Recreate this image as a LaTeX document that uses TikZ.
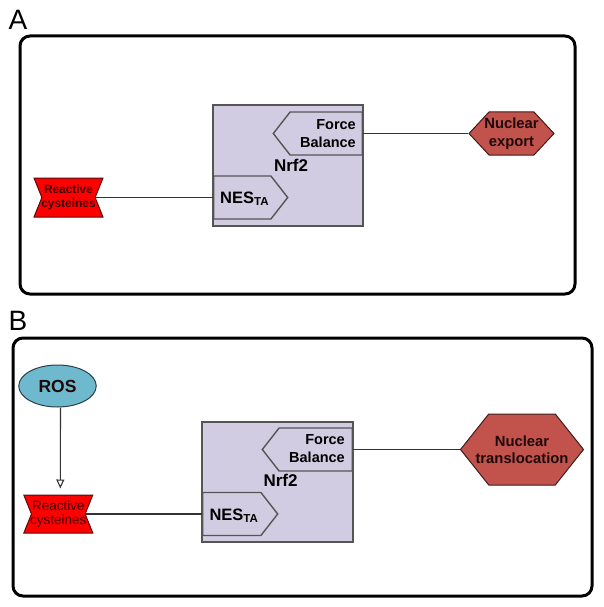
\documentclass[tikz,border=0pt]{standalone}
\usepackage{fontspec}
\setmainfont{Liberation Sans}
\usetikzlibrary{shapes.symbols,shapes.geometric,arrows.meta}

\definecolor{boxfill}{RGB}{210,204,226}
\definecolor{boxline}{RGB}{85,85,85}
\definecolor{cysred}{RGB}{255,0,0}
\definecolor{cysline}{RGB}{90,10,10}
\definecolor{cystext}{RGB}{60,0,0}
\definecolor{hexred}{RGB}{194,82,76}
\definecolor{hexline}{RGB}{60,30,30}
\definecolor{hextext}{RGB}{30,10,10}
\definecolor{rosblue}{RGB}{110,185,205}
\definecolor{rosline}{RGB}{44,62,70}
\definecolor{linkgray}{RGB}{51,51,51}

\tikzset{
  frame/.style={line width=3pt, rounded corners=10pt},
  panel/.style={font=\fontsize{28}{30}\selectfont, inner sep=0pt, anchor=base west},
  nrfbox/.style={draw=boxline, fill=boxfill, line width=1.4pt, inner sep=0pt},
  domtab/.style={signal, signal from=nowhere, signal pointer angle=104, draw=boxline, fill=boxfill, line width=1.4pt, minimum height=43pt, inner sep=0pt},
  domtext/.style={font=\fontsize{14.5}{18}\selectfont\bfseries, align=right, inner sep=0pt, anchor=east},
  nestext/.style={font=\fontsize{16.5}{18}\selectfont\bfseries, inner sep=0pt, anchor=base west},
  nrftext/.style={font=\fontsize{17}{18}\selectfont\bfseries, inner sep=0pt, anchor=base},
  cysbox/.style={signal, signal to=nowhere, signal from=west and east, signal pointer angle=136, fill=cysred, draw=cysline, line width=1pt, inner sep=0pt, minimum width=69pt},
  hexbox/.style={signal, signal to=west and east, signal from=nowhere, fill=hexred, draw=hexline, line width=1pt, inner sep=0pt},
  hextext/.style={font=\fontsize{14.8}{17.5}\selectfont\bfseries, text=hextext, align=center, inner sep=0pt},
  link/.style={draw=linkgray, line width=1.1pt},
}

\begin{document}
\begin{tikzpicture}[x=1pt, y=-1pt]
  \useasboundingbox (0,0) rectangle (604,607);

  % panel A
  \node[panel] (labA) at (8.5,30) {A};
  \draw[frame] (20,36) rectangle (575,294);

  \node[nrfbox, minimum width=150pt, minimum height=121pt] (nrfA) at (288,165.5) {};
  \node[domtab, signal to=west, minimum width=89pt, anchor=east] (fbA) at (363,133.5) {};
  \node[domtab, signal to=east, minimum width=74pt, anchor=west] (nesA) at (213,197.5) {};
  \node[domtext] (fbAt) at (356,133.5) {Force\\Balance};
  \node[nestext] (nesAt) at (220,203) {NES\textsubscript{TA}};
  \node[nrftext] (nrfAt) at (291,171) {Nrf2};

  \node[cysbox, minimum height=39pt] (rcA) at (68.5,197.5) {};
  \node[font=\fontsize{11.9}{14}\selectfont\bfseries, text=cystext, align=center, inner sep=0pt] (rcAt) at (rcA) {Reactive\\cysteines};

  \node[hexbox, signal pointer angle=94, minimum width=85pt, minimum height=43pt] (nexA) at (511.5,133.5) {};
  \node[hextext] (nexAt) at (nexA) {Nuclear\\export};

  \draw[link] (rcA.east) -- (nesA.west);
  \draw[link] (fbA.east) -- (nexA.west);

  % panel B
  \node[panel] (labB) at (8.5,330) {B};
  \draw[frame] (13,338) rectangle (592,596);

  \node[nrfbox, minimum width=151pt, minimum height=120pt] (nrfB) at (277.5,482) {};
  \node[domtab, signal to=west, minimum width=90pt, anchor=east] (fbB) at (353,449.5) {};
  \node[domtab, signal to=east, minimum width=75pt, anchor=west] (nesB) at (202,514) {};
  \node[domtext] (fbBt) at (345,449) {Force\\Balance};
  \node[nestext] (nesBt) at (209.3,520) {NES\textsubscript{TA}};
  \node[nrftext] (nrfBt) at (280.5,486.7) {Nrf2};

  \node[ellipse, fill=rosblue, draw=rosline, line width=1pt, minimum width=77.5pt, minimum height=42pt, inner sep=0pt, font=\fontsize{17.5}{18}\selectfont\bfseries, text=hextext] (ros) at (57.5,386) {ROS};

  \node[cysbox, minimum height=38pt] (rcB) at (58.3,514) {};
  \node[font=\fontsize{13.5}{14}\selectfont, text=cystext, align=center, inner sep=0pt] (rcBt) at (rcB) {Reactive\\cysteines};

  \node[hexbox, signal pointer angle=103, minimum width=123pt, minimum height=71pt] (nexB) at (522,449.5) {};
  \node[hextext] (nexBt) at (nexB) {Nuclear\\translocation};

  \draw[link, -{Triangle[open, length=9pt, width=8pt]}, shorten >=6pt] ([xshift=3pt]ros.south) -- ([xshift=2pt]rcB.north);
  \draw[link] (rcB.east) -- (nesB.west);
  \draw[link] (fbB.east) -- (nexB.west);
\end{tikzpicture}
\end{document}
